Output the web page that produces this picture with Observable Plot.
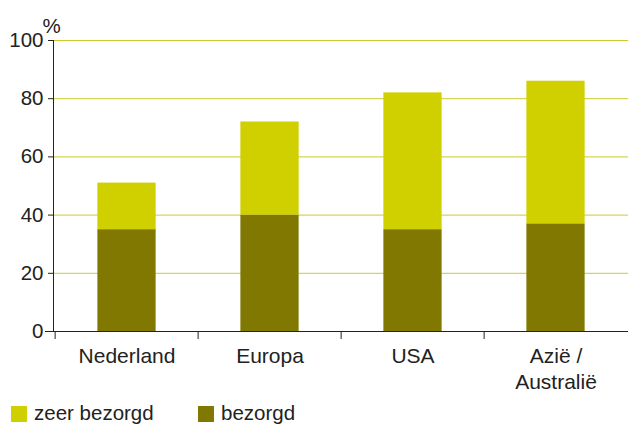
<!DOCTYPE html>
<html>
<head>
<meta charset="utf-8">
<script src="https://cdn.jsdelivr.net/npm/d3@7"></script>
<script src="https://cdn.jsdelivr.net/npm/@observablehq/plot@0.6"></script>
<style>
  body { margin: 0; background: #fff; font-family: "Liberation Sans", Arial, Helvetica, sans-serif; }
  #chart svg { display: block; }
  .legend { display: flex; height: 24px; margin-top: 1px; font-size: 20.5px; line-height: 24px; color: #222; padding-left: 11px; }
  .legend .item { display: flex; align-items: center; }
  .legend .sw { width: 16px; height: 16px; margin-right: 7px; margin-top: 2px; }
</style>
</head>
<body>
<div id="chart"></div>
<div class="legend" id="legend"></div>
<script>
const categories = ["Nederland", "Europa", "USA", "Azië / Australië"];
const bezorgd = [35, 40, 35, 37];
const zeerBezorgd = [16, 32, 47, 49];
const seriesNames = ["zeer bezorgd", "bezorgd"];
const seriesColors = ["#d0cf00", "#807800"];
const yTicks = [0, 20, 40, 60, 80, 100];

const data = [];
categories.forEach((c, i) => {
  data.push({cat: c, series: "bezorgd", value: bezorgd[i]});
  data.push({cat: c, series: "zeer bezorgd", value: zeerBezorgd[i]});
});

const width = 628, height = 400;
const marginLeft = 53, marginRight = 0, marginTop = 40, marginBottom = 69;
const step = (width - marginLeft - marginRight) / categories.length;
const barWidth = 59;
const inset = (step - barWidth) / 2;
const font = "Liberation Sans, Arial, Helvetica, sans-serif";

const chart = Plot.plot({
  width, height, marginLeft, marginRight, marginTop, marginBottom,
  style: {fontFamily: font, fontSize: "20px", color: "#222", background: "#fff"},
  x: {domain: categories, padding: 0, axis: null},
  y: {domain: [0, 100], axis: null},
  color: {domain: seriesNames, range: seriesColors},
  marks: [
    Plot.gridY(yTicks.filter(d => d > 0), {stroke: "#cdca2c", strokeOpacity: 1, strokeWidth: 1}),
    Plot.barY(data, {x: "cat", y: "value", fill: "series", order: ["bezorgd", "zeer bezorgd"], insetLeft: inset, insetRight: inset}),
    Plot.ruleY([0], {stroke: "#222", strokeWidth: 1, insetLeft: -8}),
    Plot.frame({anchor: "left", stroke: "#222"}),
    Plot.axisY({ticks: yTicks, tickSize: 5, tickPadding: 5, fontSize: 20.5, label: null, stroke: "#222", fill: "#222"}),
    Plot.axisX({tickSize: 8, tickFormat: () => "", dx: -step / 2, label: null, stroke: "#222"}),
    Plot.axisX({tickSize: 0, tickPadding: 14, fontSize: 21, lineHeight: 1.2, label: null, fill: "#222",
      tickFormat: d => d.replace(" / ", " /\n")}),
    Plot.text(["%"], {frameAnchor: "top-left", dy: -22, dx: -2, textAnchor: "middle", fontSize: 20.5, fill: "#222"})
  ]
});
document.getElementById("chart").appendChild(chart);

const legend = document.getElementById("legend");
seriesNames.forEach((name, i) => {
  const item = document.createElement("div");
  item.className = "item";
  if (i === 0) item.style.width = "187px";
  const sw = document.createElement("span");
  sw.className = "sw";
  sw.style.background = seriesColors[i];
  const label = document.createElement("span");
  label.textContent = name;
  item.appendChild(sw);
  item.appendChild(label);
  legend.appendChild(item);
});
</script>
</body>
</html>
